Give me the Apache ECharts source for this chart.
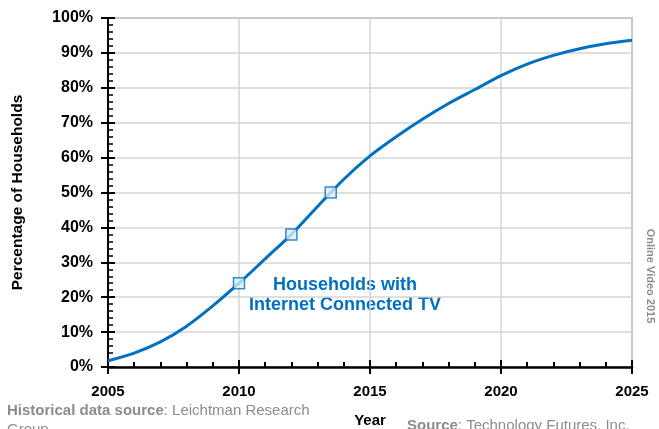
<!DOCTYPE html>
<html><head><meta charset="utf-8">
<script src="https://cdn.jsdelivr.net/npm/echarts@6/dist/echarts.min.js"></script>
<style>html,body{margin:0;padding:0;background:#fff}#c{width:659px;height:429px}</style>
</head><body><div id="c"></div>
<script>
const years = [2005,2006,2007,2008,2009,2010,2011,2012,2013,2014,2015,2016,2017,2018,2019,2020,2021,2022,2023,2024,2025];
const share = [1.8,4.0,7.2,11.7,17.5,24,31,38,46,53.8,60.5,66,71,75.5,79.5,83.5,86.8,89.3,91.2,92.6,93.6];
const markerYears = [2010,2012,2013.5];
const markerShare = [24,38,50];
const xTicks = [2005,2010,2015,2020,2025];
const seriesLabel = 'Households with\nInternet Connected TV';

const chart = echarts.init(document.getElementById('c'));
const font = 'Liberation Sans, Arial, sans-serif';
const blue = '#0070c0';
const grey = '#8c8c8c';
chart.setOption({
  animation:false,
  grid:{left:108,right:27,top:18,bottom:62,show:true,borderColor:'#8c8c8c',borderWidth:1.5,outerBoundsMode:'none',containLabel:false},
  xAxis:[{
    type:'value',min:xTicks[0],max:xTicks[xTicks.length-1],interval:5,
    axisLine:{lineStyle:{color:'#000',width:2.5}},
    axisTick:{show:true,inside:true,length:7,lineStyle:{color:'#000',width:2}},
    minorTick:{show:true,splitNumber:5,length:5,lineStyle:{color:'#000',width:2}},
    axisLabel:{color:'#000',fontFamily:font,fontWeight:'bold',fontSize:15,margin:17,formatter:v=>String(v)},
    splitLine:{show:true,lineStyle:{color:'#d4d4d4',width:1.5}},
    name:'Year',nameLocation:'middle',nameGap:46,
    nameTextStyle:{color:'#000',fontFamily:font,fontWeight:'bold',fontSize:15}
  },{
    type:'value',min:2005,max:2025,interval:5,position:'bottom',
    axisLine:{show:false},
    axisTick:{show:true,inside:false,length:7,lineStyle:{color:'#000',width:2}},
    axisLabel:{show:false},splitLine:{show:false}
  }],
  yAxis:[{
    type:'value',min:0,max:100,interval:10,
    axisLine:{show:true,lineStyle:{color:'#000',width:2}},
    axisTick:{show:true,inside:true,length:7,lineStyle:{color:'#000',width:2}},
    minorTick:{show:true,splitNumber:5,length:5,lineStyle:{color:'#000',width:1.5}},
    axisLabel:{color:'#000',fontFamily:font,fontWeight:'bold',fontSize:16,margin:15,formatter:'{value}%'},
    splitLine:{show:true,lineStyle:{color:'#d4d4d4',width:1.5}},
    name:'Percentage of Households',nameLocation:'middle',nameGap:82,
    nameTextStyle:{color:'#000',fontFamily:font,fontWeight:'bold',fontSize:15.5}
  },{
    type:'value',min:0,max:100,interval:10,position:'left',
    axisLine:{show:false},
    axisTick:{show:true,inside:false,length:7,lineStyle:{color:'#000',width:2}},
    axisLabel:{show:false},splitLine:{show:false}
  }],
  series:[{
    type:'line',data:years.map((y,i)=>[y,share[i]]),smooth:0.3,showSymbol:false,
    lineStyle:{color:blue,width:3},z:3
  },{
    type:'scatter',data:markerYears.map((y,i)=>[y,markerShare[i]]),symbol:'rect',symbolSize:11,
    itemStyle:{color:'#daeef3',borderColor:blue,borderWidth:1.5},z:4
  }],
  graphic:[
    {type:'text',x:345,y:275,style:{text:seriesLabel,fill:blue,font:'bold 18px '+font,align:'center',lineHeight:20}},
    {type:'text',x:650,y:276,rotation:-Math.PI/2,style:{text:'Online Video 2015',fill:grey,font:'bold 11px '+font,align:'center',verticalAlign:'middle'}},
    {type:'text',x:7,y:401,style:{rich:{b:{font:'bold 15px '+font,fill:grey,lineHeight:19},n:{font:'15px '+font,fill:grey,lineHeight:19}},text:'{b|Historical data source}{n|: Leichtman Research}\n{n|Group}'}},
    {type:'text',x:407,y:418,style:{rich:{b:{font:'bold 15px '+font,fill:grey},n:{font:'15px '+font,fill:grey}},text:'{b|Source}{n|: Technology Futures, Inc.}'}}
  ]
});
</script></body></html>
